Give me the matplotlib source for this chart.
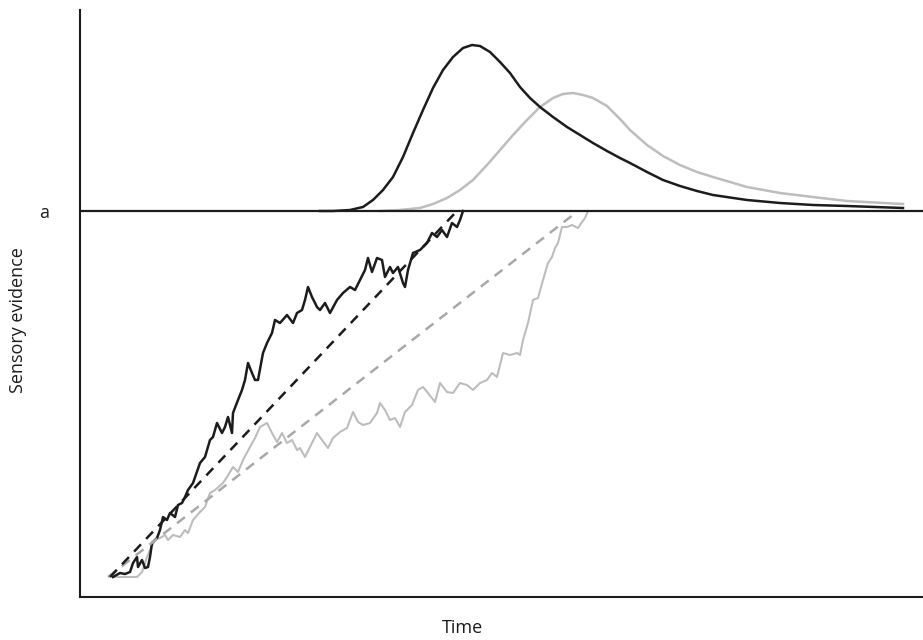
import numpy as np
import matplotlib.pyplot as plt

# threshold (decision bound)
a = 386

# fast trial: accumulated evidence over time
fast_t = [33, 40, 45, 50, 53, 57, 58, 62, 65, 68, 70, 72, 77, 80, 83, 87, 90, 95, 98, 102,
          105, 108, 113, 120, 125, 130, 133, 137, 142, 145, 148, 152, 153, 158, 162, 165, 168,
          172, 175, 178, 183, 187, 192, 195, 200, 207, 213, 217, 222, 225, 228, 232, 237, 240,
          245, 250, 257, 263, 270, 275, 280, 285, 288, 292, 297, 302, 305, 310, 313, 318, 323,
          325, 328, 333, 340, 347, 352, 357, 362, 367, 372, 377, 380, 383]
fast_ev = [20, 24, 23, 25, 34, 40, 30, 37, 29, 30, 40, 54, 59, 67, 80, 77, 84, 80, 92, 94,
           100, 107, 114, 134, 140, 157, 160, 174, 164, 170, 180, 164, 184, 197, 207, 217, 234,
           224, 217, 217, 244, 254, 264, 277, 274, 282, 274, 284, 287, 297, 310, 300, 290, 287,
           294, 284, 297, 304, 310, 307, 317, 327, 339, 325, 339, 337, 320, 330, 324, 330, 314,
           310, 327, 344, 347, 354, 364, 360, 367, 360, 374, 370, 377, 386]

# slow trial
slow_t = [33, 57, 62, 67, 70, 75, 80, 85, 88, 93, 100, 105, 108, 113, 120, 125, 130, 135,
          143, 147, 153, 158, 163, 170, 175, 180, 187, 192, 197, 202, 207, 212, 217, 220, 225,
          230, 237, 242, 248, 253, 260, 267, 273, 278, 283, 290, 297, 300, 305, 310, 315, 320,
          325, 332, 338, 343, 348, 355, 360, 367, 373, 380, 387, 393, 400, 407, 412, 417, 423,
          430, 437, 440, 443, 448, 453, 458, 463, 468, 472, 475, 478, 482, 487, 492, 498, 502,
          505, 508]
slow_ev = [20, 20, 25, 40, 47, 57, 59, 62, 57, 62, 60, 67, 64, 77, 85, 90, 104, 107, 114,
           120, 130, 125, 137, 150, 159, 170, 174, 164, 155, 164, 154, 157, 147, 149, 140, 150,
           164, 157, 149, 159, 165, 169, 185, 175, 172, 174, 184, 194, 187, 177, 179, 170, 185,
           192, 207, 210, 204, 195, 214, 205, 204, 214, 212, 207, 214, 217, 224, 220, 244, 242,
           244, 242, 257, 274, 297, 299, 317, 334, 340, 349, 354, 370, 370, 372, 369, 375, 379,
           386]

# mean drift lines
fast_drift_t = [30, 377]
slow_drift_t = [28, 498]
drift_ev = [20, 386]

# RT distributions (height above the bound)
fast_rt_t = [240, 253, 270, 283, 293, 303, 313, 323, 333, 343, 353, 363, 373, 383, 392, 400,
             410, 420, 430, 440, 450, 460, 473, 487, 500, 513, 527, 540, 550, 567, 583, 600,
             617, 633, 667, 700, 733, 767, 823]
fast_rt_d = [0, 0, 1, 4, 11, 21, 34, 54, 78, 101, 123, 141, 154, 163, 166, 165, 159, 149,
             138, 124, 113, 104, 94, 84, 76, 68, 60, 53, 48, 39, 31, 25, 20, 16, 11, 8, 6, 5, 3]
slow_rt_t = [300, 320, 340, 353, 367, 380, 393, 407, 420, 433, 447, 460, 473, 483, 493, 503,
             513, 527, 540, 550, 567, 583, 600, 617, 633, 667, 700, 733, 767, 823]
slow_rt_d = [0, 1, 3, 7, 13, 21, 31, 46, 61, 76, 91, 104, 113, 117, 118, 116, 113, 105, 92,
             81, 66, 55, 46, 39, 34, 24, 18, 14, 10, 7]

black = '#1c1c1c'
grey = '#bdbdbd'
grey_dash = '#a8a8a8'

fig = plt.figure(figsize=(9.23, 6.4), dpi=100)
ax = fig.add_axes([80 / 923, 43 / 640, 843 / 923, 587 / 640])

ax.plot(slow_t, slow_ev, color=grey, lw=1.5)
ax.plot(fast_t, fast_ev, color=black, lw=1.8)
ax.plot(slow_drift_t, drift_ev, color=grey_dash, lw=1.8, ls=(0, (4, 3)))
ax.plot(fast_drift_t, drift_ev, color=black, lw=1.8, ls=(0, (4, 3)))

ax.plot(slow_rt_t, a + np.array(slow_rt_d), color=grey, lw=1.8)
ax.plot(fast_rt_t, a + np.array(fast_rt_d), color=black, lw=1.8)
ax.axhline(a, color=black, lw=1.6)

ax.set_xlim(0, 843)
ax.set_ylim(0, 587)
for s in ['top', 'right']:
    ax.spines[s].set_visible(False)
for s in ['left', 'bottom']:
    ax.spines[s].set_linewidth(1.5)
    ax.spines[s].set_color(black)
ax.set_xticks([])
ax.set_yticks([a])
ax.set_yticklabels(['a'], fontsize=13, fontfamily='Open Sans', color=black)
ax.tick_params(axis='y', length=0, pad=22)

fig.text(463 / 923, 1 - 628 / 640, 'Time', fontsize=13, fontfamily='Open Sans',
         ha='center', va='center', color=black)
fig.text(18 / 923, 1 - 320 / 640, 'Sensory evidence', fontsize=13, fontfamily='Open Sans',
         rotation=90, ha='center', va='center', color=black)

fig.savefig('out.png', dpi=100)
